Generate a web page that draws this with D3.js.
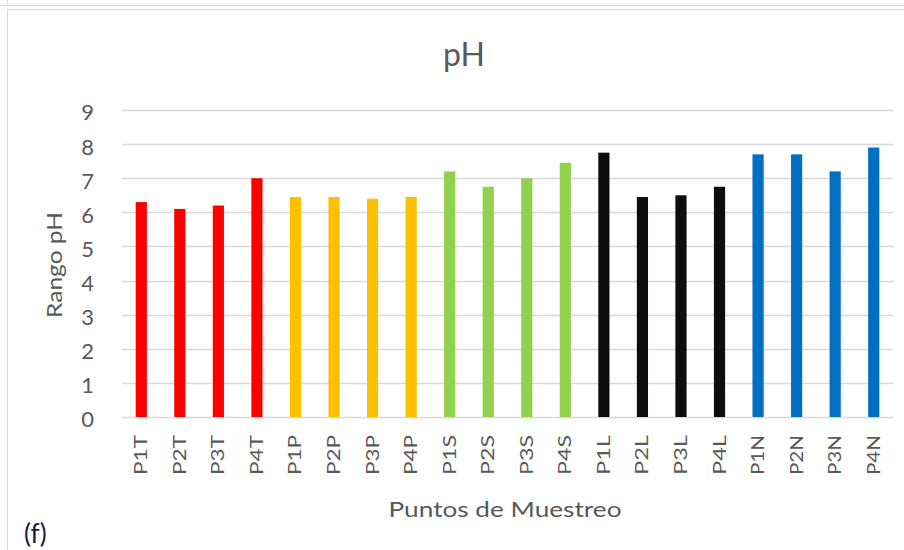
<html lang="es">
<head>
  <meta http-equiv="Content-Type" content="text/html; charset=UTF-8">
  <title>pH</title>
  <script type="text/javascript" src="https://cdn.jsdelivr.net/npm/d3@7"></script>
  <style type="text/css">
    body { margin: 0; background: #fff; }
    text { font-family: Lato, "Liberation Sans", Arial, sans-serif; fill: #595959; }
  </style>
</head>
<body>
  <script type="text/javascript">
    // datos
    var categories = ["P1T", "P2T", "P3T", "P4T", "P1P", "P2P", "P3P", "P4P",
                      "P1S", "P2S", "P3S", "P4S", "P1L", "P2L", "P3L", "P4L",
                      "P1N", "P2N", "P3N", "P4N"];
    var phValues = [6.3, 6.1, 6.2, 7.0, 6.45, 6.45, 6.4, 6.45,
                    7.2, 6.75, 7.0, 7.45, 7.75, 6.45, 6.5, 6.75,
                    7.7, 7.7, 7.2, 7.9];
    var groups = ["T", "P", "S", "L", "N"];
    var groupColors = ["#ff0000", "#ffc000", "#92d050", "#0d0d0d", "#0070c0"];
    var yTicks = [0, 1, 2, 3, 4, 5, 6, 7, 8, 9];

    var width = 904, height = 550;
    var font = "Lato, Liberation Sans, Arial, sans-serif";
    var svg = d3.select("body").append("svg").attr("width", width).attr("height", height);

    // marco del area del grafico
    svg.append("line").attr("x1", 0).attr("x2", width).attr("y1", 5.5).attr("y2", 5.5)
      .attr("stroke", "#d9d9d9");
    svg.append("line").attr("x1", 7.5).attr("x2", 7.5).attr("y1", 0).attr("y2", 5)
      .attr("stroke", "#d9d9d9");
    svg.append("rect").attr("x", 7.5).attr("y", 9.5).attr("width", 1000).attr("height", 1000)
      .attr("fill", "none").attr("stroke", "#d9d9d9");

    var x = d3.scaleBand().domain(categories).range([122, 893])
      .paddingInner(0.71).paddingOuter(0.355);
    var y = d3.scaleLinear().domain([0, 9]).range([417, 110]);
    var color = d3.scaleOrdinal().domain(groups).range(groupColors);

    // lineas de cuadricula
    svg.append("g").selectAll("line").data(yTicks).enter().append("line")
      .attr("x1", 122).attr("x2", 893)
      .attr("y1", function(d) { return Math.round(y(d)) + 0.5; })
      .attr("y2", function(d) { return Math.round(y(d)) + 0.5; })
      .attr("stroke", "#d9d9d9").attr("stroke-width", 1.3);

    // barras
    svg.append("g").selectAll("rect").data(phValues).enter().append("rect")
      .attr("x", function(d, i) { return x(categories[i]); })
      .attr("width", x.bandwidth())
      .attr("y", function(d) { return y(d); })
      .attr("height", function(d) { return y(0) - y(d); })
      .attr("fill", function(d, i) { return color(categories[i].slice(-1)); });

    // eje Y
    var yAxis = d3.axisLeft(y).tickValues(yTicks).tickSize(0).tickPadding(0);
    var gy = svg.append("g").attr("transform", "translate(94,0)").call(yAxis);
    gy.select(".domain").remove();
    gy.selectAll("text").style("font-size", "22px").style("fill", "#595959")
      .style("font-family", font).attr("dy", "0.45em");

    // eje X
    var xAxis = d3.axisBottom(x).tickSize(0).tickPadding(0);
    var gx = svg.append("g").attr("transform", "translate(0,435)").call(xAxis);
    gx.select(".domain").remove();
    gx.selectAll("text")
      .style("font-size", "17px").style("fill", "#595959")
      .style("font-family", font)
      .attr("text-anchor", "end")
      .attr("dy", null).attr("y", 0)
      .attr("transform", "rotate(-90) translate(0,6)")
      .attr("textLength", 40).attr("lengthAdjust", "spacingAndGlyphs");

    // titulos
    svg.append("text").attr("x", 464).attr("y", 66).attr("text-anchor", "middle")
      .style("font-size", "32px").text("pH");
    svg.append("text").attr("transform", "translate(62,265) rotate(-90)")
      .attr("text-anchor", "middle").style("font-size", "21px")
      .attr("textLength", 106).attr("lengthAdjust", "spacingAndGlyphs")
      .text("Rango pH");
    svg.append("text").attr("x", 505).attr("y", 517).attr("text-anchor", "middle")
      .style("font-size", "21px")
      .attr("textLength", 233).attr("lengthAdjust", "spacingAndGlyphs")
      .text("Puntos de Muestreo");
    svg.append("text").attr("x", 24).attr("y", 543)
      .style("font-size", "26px").style("fill", "#1a1a40").text("(f)");
  </script>
</body>
</html>
